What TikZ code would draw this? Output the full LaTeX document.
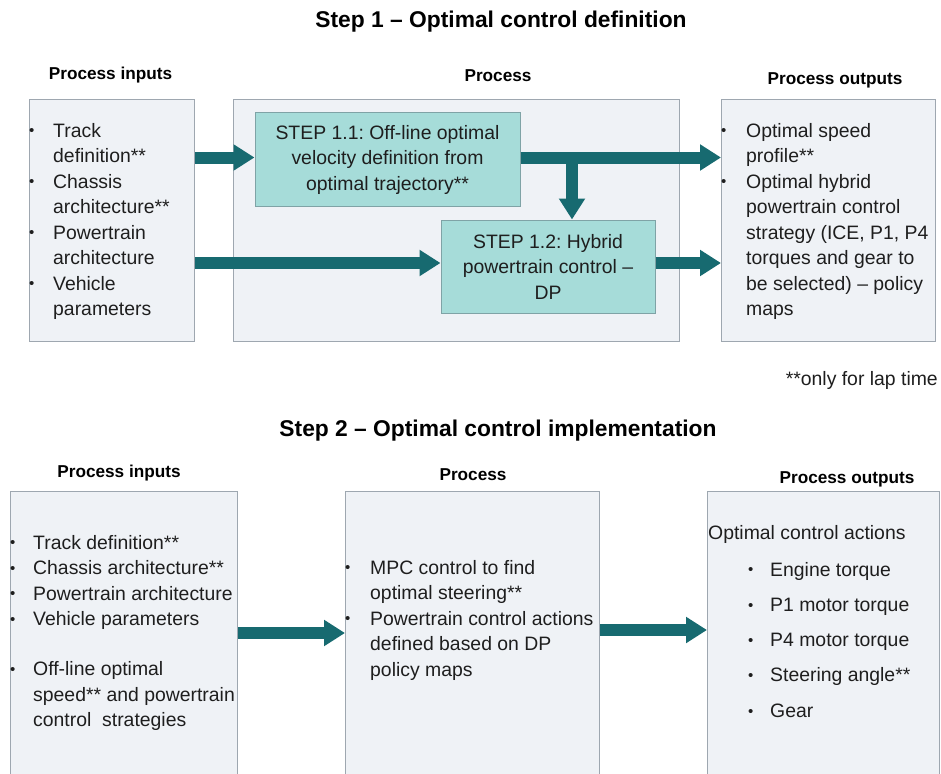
\documentclass[tikz,border=0pt]{standalone}
\usepackage{fontspec}
\setmainfont{Liberation Sans}
\usetikzlibrary{arrows.meta,calc}

\definecolor{boxfill}{HTML}{EFF2F6}
\definecolor{boxline}{HTML}{9EA7B0}
\definecolor{stepfill}{HTML}{A6DCD9}
\definecolor{stepline}{HTML}{7FA3A6}
\definecolor{flow}{HTML}{176A70}
\definecolor{ink}{HTML}{1E1E1E}

\frenchspacing
\newcommand\bdot{\raisebox{1.2pt}{\fontsize{15}{15}\selectfont\textbullet}}
\newcommand\bodyfont{\fontsize{19.4}{25.5}\selectfont}
\newcommand\bcol[1]{\makebox[#1][l]{\bdot}}

\begin{document}
\begin{tikzpicture}[x=1pt,y=-1pt,
  panel/.style={draw=boxline, fill=boxfill, line width=1pt, inner sep=0pt, anchor=north west},
  stepbox/.style={draw=stepline, fill=stepfill, line width=1pt, inner sep=0pt,
    align=center, font=\bodyfont, text=ink},
  txt/.style={anchor=base west, inner sep=0pt, font=\bodyfont, text=ink},
  title/.style={anchor=base, inner sep=0pt, font=\fontsize{22.8}{26}\selectfont\bfseries, text=black},
  head/.style={anchor=base, inner sep=0pt, font=\fontsize{17.2}{20}\selectfont\bfseries, text=black},
  flowarrow/.style={draw=flow, line width=12pt, -{Triangle[width=25pt,length=21pt]}}]

\fill[white] (0,0) rectangle (941,773);
\clip (0,0) rectangle (941,773);

% ---------------- Step 1 ----------------
\node[title] (t1) at (501,28) {Step 1 -- Optimal control definition};
\node[head] (h1a) at (110.5,80) {Process inputs};
\node[head] (h1b) at (498,82) {Process};
\node[head] (h1c) at (835,85) {Process outputs};

\node[panel, minimum width=165, minimum height=242] (in1) at (29,99) {};
\node[panel, minimum width=446, minimum height=242] (pr1) at (233,99) {};
\node[panel, minimum width=214, minimum height=242] (out1) at (721,99) {};

\node[stepbox, minimum width=265, minimum height=93] (s11) at (387.5,159.5)
  {STEP 1.1: Off-line optimal\\velocity definition from\\optimal trajectory**};
\node[stepbox, minimum width=214, minimum height=93] (s12) at (548,266.5)
  {STEP 1.2: Hybrid\\powertrain control --\\DP};

\node[txt] (in1t) at (29,137) {\begin{tabular}[t]{@{}l@{}l@{}}
  \bcol{24pt} & Track\\
              & definition**\\
  \bcol{24pt} & Chassis\\
              & architecture**\\
  \bcol{24pt} & Powertrain\\
              & architecture\\
  \bcol{24pt} & Vehicle\\
              & parameters
\end{tabular}};

\node[txt] (out1t) at (721,137) {\begin{tabular}[t]{@{}l@{}l@{}}
  \bcol{25pt} & Optimal speed\\
              & profile**\\
  \bcol{25pt} & Optimal hybrid\\
              & powertrain control\\
              & strategy (ICE, P1, P4\\
              & torques and gear to\\
              & be selected) -- policy\\
              & maps
\end{tabular}};

\node[txt, anchor=base east] (note) at (938,385) {**only for lap time};

% flows of step 1
\coordinate (r1) at (0,157.5);
\coordinate (r2) at (0,263);
\coordinate (br) at (572,157.5);
\draw[flowarrow] (in1.east |- r1) -- (s11.west |- r1);
\draw[flowarrow] (s11.east |- r1) -- (out1.west |- r1);
\draw[flowarrow] (br) -- (br |- s12.north);
\draw[flowarrow] (in1.east |- r2) -- (s12.west |- r2);
\draw[flowarrow] (s12.east |- r2) -- (out1.west |- r2);

% ---------------- Step 2 ----------------
\node[title] (t2) at (498,436) {Step 2 -- Optimal control implementation};
\node[head] (h2a) at (119,477) {Process inputs};
\node[head] (h2b) at (473,480) {Process};
\node[head] (h2c) at (847,483) {Process outputs};

\node[panel, minimum width=227, minimum height=300] (in2) at (10,491) {};
\node[panel, minimum width=254, minimum height=300] (pr2) at (345,491) {};
\node[panel, minimum width=232, minimum height=300] (out2) at (707,491) {};

\node[txt] (in2t) at (10,549) {\begin{tabular}[t]{@{}l@{}l@{}}
  \bcol{23pt} & Track definition**\\
  \bcol{23pt} & Chassis architecture**\\
  \bcol{23pt} & Powertrain architecture\\
  \bcol{23pt} & Vehicle parameters\\[24.5pt]
  \bcol{23pt} & Off-line optimal\\
              & speed** and powertrain\\
              & control\ \ strategies
\end{tabular}};

\node[txt] (pr2t) at (345,574) {\begin{tabular}[t]{@{}l@{}l@{}}
  \bcol{25pt} & MPC control to find\\
              & optimal steering**\\
  \bcol{25pt} & Powertrain control actions\\
              & defined based on DP\\
              & policy maps
\end{tabular}};

\node[txt] (out2t) at (708,539) {\begin{tabular}[t]{@{}l@{}l@{}l@{}}
  \multicolumn{3}{@{}l@{}}{Optimal control actions}\\[11.5pt]
  \hspace*{40pt} & \bcol{22pt} & Engine torque\\[9.8pt]
                 & \bcol{22pt} & P1 motor torque\\[9.8pt]
                 & \bcol{22pt} & P4 motor torque\\[9.8pt]
                 & \bcol{22pt} & Steering angle**\\[9.8pt]
                 & \bcol{22pt} & Gear
\end{tabular}};

% flows of step 2
\coordinate (f2a) at (0,633);
\coordinate (f2b) at (0,630);
\draw[flowarrow] (in2.east |- f2a) -- (pr2.west |- f2a);
\draw[flowarrow] (pr2.east |- f2b) -- (out2.west |- f2b);

\end{tikzpicture}
\end{document}
